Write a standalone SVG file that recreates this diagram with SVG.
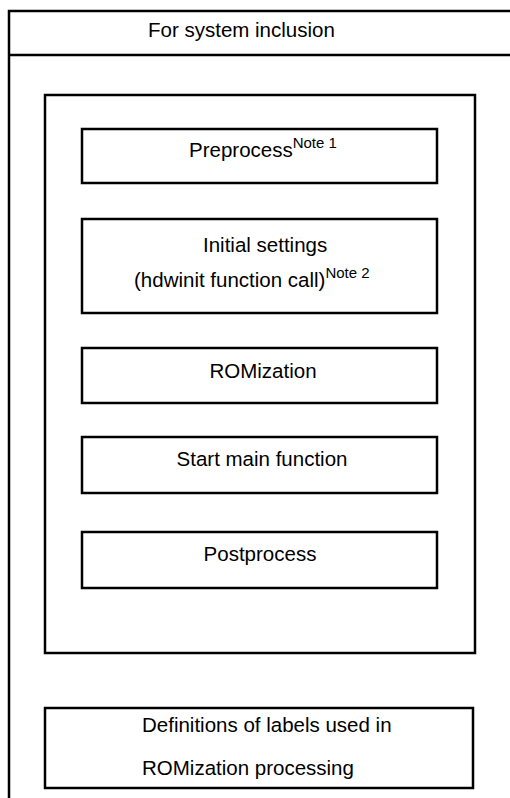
<svg xmlns="http://www.w3.org/2000/svg" width="510" height="798" viewBox="0 0 510 798">
  <style>
    .frame { fill: none; stroke: #000; stroke-width: 2.5; }
    .box { fill: #fff; stroke: #000; stroke-width: 2.5; }
    .t { font-family: "Liberation Sans", Arial, sans-serif; font-size: 20.5px; fill: #000; }
    .sup { font-size: 15px; }
  </style>
  <rect width="510" height="798" fill="#fff"/>
  <g id="frame">
    <path class="frame" d="M9,798 V11 H512 M9,55 H512"/>
    <text class="t" x="148" y="37">For system inclusion</text>
  </g>
  <g id="container">
    <rect class="frame" x="45" y="95" width="430" height="558"/>
  </g>
  <g id="preprocess">
    <rect class="box" x="82" y="129" width="355" height="54"/>
    <text class="t" x="189" y="157">Preprocess<tspan class="sup" dy="-9">Note 1</tspan></text>
  </g>
  <g id="initial-settings">
    <rect class="box" x="82" y="219" width="355" height="94"/>
    <text class="t" x="203" y="252">Initial settings</text>
    <text class="t" x="134" y="287">(hdwinit function call)<tspan class="sup" dy="-9">Note 2</tspan></text>
  </g>
  <g id="romization">
    <rect class="box" x="82" y="348" width="355" height="55"/>
    <text class="t" x="263" y="378" text-anchor="middle">ROMization</text>
  </g>
  <g id="start-main">
    <rect class="box" x="82" y="437" width="355" height="56"/>
    <text class="t" x="262" y="466" text-anchor="middle">Start main function</text>
  </g>
  <g id="postprocess">
    <rect class="box" x="82" y="532" width="355" height="56"/>
    <text class="t" x="260" y="561" text-anchor="middle">Postprocess</text>
  </g>
  <g id="definitions">
    <rect class="box" x="45" y="708" width="428" height="80"/>
    <text class="t" x="142" y="732">Definitions of labels used in</text>
    <text class="t" x="142" y="775">ROMization processing</text>
  </g>
  <g id="connectors"/>
</svg>
